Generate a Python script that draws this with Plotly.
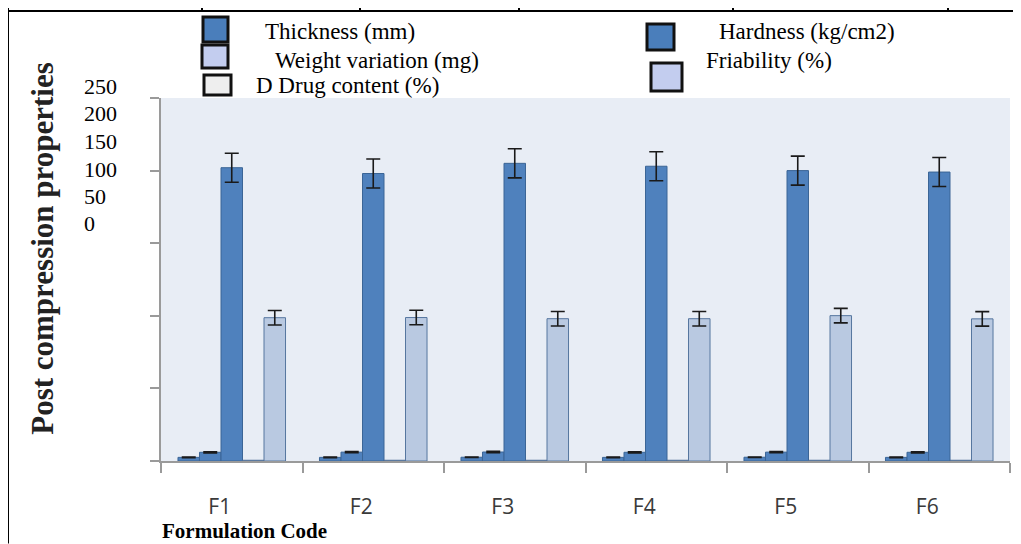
import plotly.graph_objects as go

# ---------------- data ----------------
categories = ["F1", "F2", "F3", "F4", "F5", "F6"]
series_names = ["Thickness (mm)", "Hardness (kg/cm2)", "Weight variation (mg)",
                "Friability (%)", "D Drug content (%)"]
thickness = [2.5, 2.5, 2.6, 2.5, 2.6, 2.5]
thickness_err = [0.2, 0.2, 0.2, 0.2, 0.2, 0.2]
hardness = [6.0, 6.1, 6.2, 6.0, 6.1, 6.0]
hardness_err = [0.4, 0.4, 0.4, 0.4, 0.4, 0.4]
weight = [202, 198, 205, 203, 200, 199]
weight_err = [10, 10, 10, 10, 10, 10]
friability = [0.5, 0.5, 0.5, 0.5, 0.5, 0.5]
drug_content = [98.7, 98.8, 98.0, 98.0, 100.1, 97.9]
drug_err = [5, 5, 5, 5, 5, 5]
fake_tick_labels = ["250", "200", "150", "100", "50", "0"]
y_ticks = [0, 50, 100, 150, 200, 250]
y_title = "Post compression properties"
x_title = "Formulation Code"

# ---------------- geometry helpers ----------------
# the html page body has an 8px margin: shrink the figure and shift by 8px
OFF = 8
W, H = 1021 - OFF, 544 - OFF
ML, MR, MT = 161 - OFF, 11, 98 - OFF
MB = H - (461.5 - OFF)
PW, PH = W - ML - MR, H - MT - MB


def px(x):
    # x given in window pixels
    return (x - OFF - ML) / PW


def py(y):
    # y given in window pixels
    return (H - MB - (y - OFF)) / PH


fig = go.Figure()

bar_specs = [
    (thickness, thickness_err, "#4f81bd", "#3b6596"),
    (hardness, hardness_err, "#4f81bd", "#3b6596"),
    (weight, weight_err, "#4f81bd", "#3b6596"),
    (friability, None, "#dce5f1", "#4a6a95"),
    (drug_content, drug_err, "#b9c9e1", "#56769f"),
]
for name, (vals, err, col, lcol) in zip(series_names, bar_specs):
    kw = {}
    if err is not None:
        kw["error_y"] = dict(type="data", array=err, visible=True,
                             color="#1a1a1a", thickness=1.6, width=7)
    fig.add_trace(go.Bar(
        x=categories, y=vals, name=name,
        marker=dict(color=col, line=dict(color=lcol, width=1)),
        showlegend=False, **kw))

fig.update_layout(
    width=W, height=H,
    margin=dict(l=ML, r=MR, t=MT, b=MB),
    paper_bgcolor="white",
    plot_bgcolor="#e8edf5",
    barmode="group",
    bargap=0.24,
    bargroupgap=0,
    font=dict(family="Liberation Serif", color="black"),
)
fig.update_xaxes(
    showgrid=False, showline=True, linecolor="#9a9a9a", linewidth=1.5,
    ticks="outside", tickson="boundaries", ticklen=10, tickcolor="#9a9a9a",
    tickwidth=1.5,
    tickfont=dict(family="Open Sans", size=21, color="#3a3a3a"),
    ticklabelshift=-12, ticklabelstandoff=26,
)
fig.update_yaxes(
    range=[0, 250], tickvals=y_ticks, showticklabels=False,
    showgrid=False, zeroline=False, showline=True, linecolor="#9a9a9a",
    linewidth=1.5, ticks="outside", ticklen=9, tickcolor="#9a9a9a", tickwidth=1.5,
)

annotations = []
shapes = []

# fake y tick labels (as in the scanned figure)
label_ys = [86, 114, 142, 170, 197, 224]
for t, yy in zip(fake_tick_labels, label_ys):
    annotations.append(dict(text=t, xref="paper", yref="paper", x=px(82), y=py(yy),
                            xanchor="left", yanchor="middle", showarrow=False,
                            font=dict(size=22, family="Liberation Serif", color="black")))

# y title
annotations.append(dict(text="<b>" + y_title + "</b>", xref="paper", yref="paper",
                        x=px(43), y=py(249), textangle=-90, showarrow=False,
                        xanchor="center", yanchor="middle",
                        font=dict(size=31, family="Liberation Serif", color="#222222")))
# x title
annotations.append(dict(text="<b>" + x_title + "</b>", xref="paper", yref="paper",
                        x=px(160), y=py(532), xanchor="left", yanchor="middle",
                        showarrow=False,
                        font=dict(size=21, family="Liberation Serif", color="black")))

# custom legend
legend_items = [
    # (name index, square box x0,y0,x1,y1, fill, text x, text y)
    (0, (203, 17, 228, 42), "#4a7ebb", 263, 31),
    (2, (202, 45, 228, 68), "#c3cdef", 273, 60),
    (4, (204, 75, 231, 95), "#eeeeee", 254, 85),
    (1, (647, 24, 674, 50), "#4a7ebb", 717, 31),
    (3, (651, 63, 682, 91), "#c3cdef", 704, 60),
]
for idx, (x0, y0, x1, y1), fill, tx, ty in legend_items:
    shapes.append(dict(type="rect", xref="paper", yref="paper",
                       x0=px(x0), x1=px(x1), y0=py(y1), y1=py(y0),
                       fillcolor=fill, line=dict(color="#111111", width=3)))
    annotations.append(dict(text=series_names[idx], xref="paper", yref="paper",
                            x=px(tx), y=py(ty), xanchor="left", yanchor="middle",
                            showarrow=False,
                            font=dict(size=23, family="Liberation Serif", color="black")))

# table borders of the scanned page
line_style = dict(color="black", width=2)
shapes.append(dict(type="line", xref="paper", yref="paper", x0=px(8), x1=px(1020),
                   y0=py(11), y1=py(11), line=line_style))
shapes.append(dict(type="line", xref="paper", yref="paper", x0=px(8), x1=px(8),
                   y0=py(8), y1=py(544), line=line_style))
for xv in [202, 360, 519, 733, 948]:
    shapes.append(dict(type="line", xref="paper", yref="paper", x0=px(xv), x1=px(xv),
                       y0=py(8), y1=py(11), line=line_style))

fig.update_layout(annotations=annotations, shapes=shapes)
fig.write_html("out.html")
